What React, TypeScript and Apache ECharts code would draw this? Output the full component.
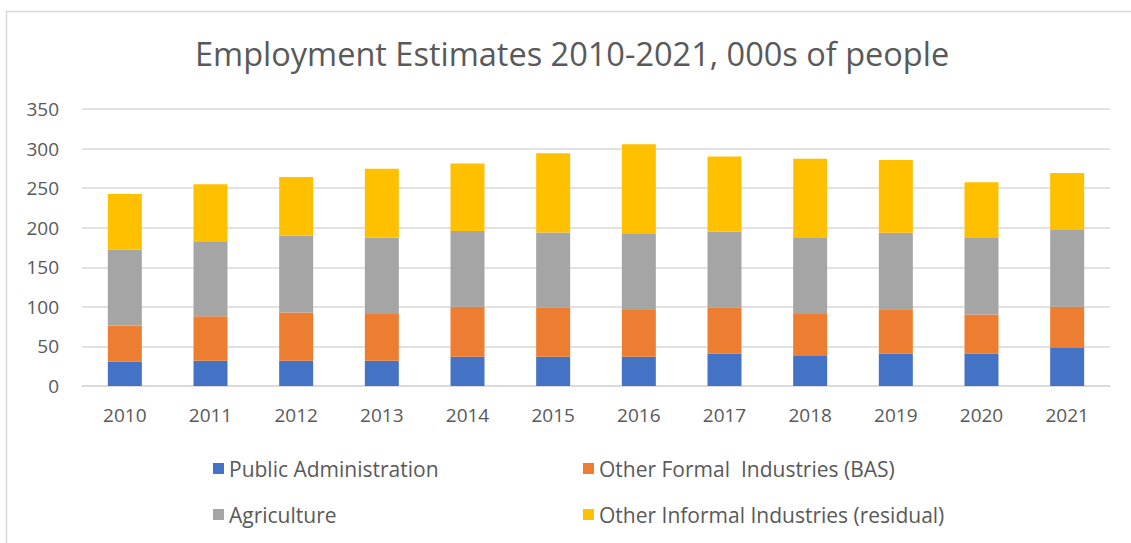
import React, { useEffect, useRef } from "react";
import * as echarts from "echarts";

const years = ["2010", "2011", "2012", "2013", "2014", "2015", "2016", "2017", "2018", "2019", "2020", "2021"];
const publicAdmin = [31, 32, 32, 32, 37, 37, 37, 41, 38, 41, 41, 48];
const otherFormal = [45.5, 56, 61, 59, 63, 62, 59, 58, 53, 56, 49.5, 52];
const agriculture = [96, 95, 97, 96.5, 96, 95, 96, 96, 96, 96.5, 96.5, 97];
const otherInformal = [70, 72, 74, 87, 85, 100, 113.5, 95, 100, 92, 70.5, 72];

const seriesNames = [
  "Public Administration",
  "Other Formal  Industries (BAS)",
  "Agriculture",
  "Other Informal Industries (residual)",
];
const colors = ["#4472C4", "#ED7D31", "#A5A5A5", "#FFC000"];

export default function App() {
  const ref = useRef<HTMLDivElement>(null);
  useEffect(() => {
    if (!ref.current) return;
    const chart = echarts.init(ref.current, null, { renderer: "svg" });
    const font = "Open Sans";
    const textColor = "#595959";
    const legendPos = [
      { left: 208, top: 453 },
      { left: 578, top: 453 },
      { left: 208, top: 499 },
      { left: 578, top: 499 },
    ];
    const values = [publicAdmin, otherFormal, agriculture, otherInformal];
    chart.setOption({
      animation: false,
      backgroundColor: "#ffffff",
      title: {
        text: "Employment Estimates 2010-2021, 000s of people",
        left: 190,
        top: 32,
        textStyle: { fontFamily: font, fontSize: 32.5, fontWeight: "normal", color: textColor },
      },
      graphic: [
        {
          type: "rect",
          shape: { x: 6.5, y: 11.5, width: 1200, height: 600 },
          style: { fill: "none", stroke: "#d9d9d9", lineWidth: 1.5 },
          silent: true,
        },
      ],
      legend: legendPos.map((p, i) => ({
        data: [seriesNames[i]],
        left: p.left,
        top: p.top,
        itemWidth: 11,
        itemHeight: 11,
        icon: "rect",
        textStyle: { fontFamily: font, fontSize: 21, color: textColor, padding: [0, 0, 0, 0] },
      })),
      grid: { left: 82, right: 21, top: 109, bottom: 157, containLabel: false },
      xAxis: {
        type: "category",
        data: years,
        axisLine: { show: true, lineStyle: { color: "#d9d9d9", width: 1.5 } },
        axisTick: { show: false },
        axisLabel: { fontFamily: font, fontSize: 19, color: textColor, margin: 19 },
      },
      yAxis: {
        type: "value",
        min: 0,
        max: 350,
        interval: 50,
        axisLine: { show: false },
        axisTick: { show: false },
        splitLine: { lineStyle: { color: "#d9d9d9", width: 1.5 } },
        axisLabel: { fontFamily: font, fontSize: 19, color: textColor, margin: 23 },
      },
      series: seriesNames.map((name, i) => ({
        name,
        type: "bar",
        stack: "total",
        data: values[i],
        barWidth: 34,
        itemStyle: { color: colors[i] },
      })),
    });
    return () => chart.dispose();
  }, []);
  return (
    <div
      ref={ref}
      style={{ position: "fixed", left: 0, top: 0, width: 1131, height: 543 }}
    />
  );
}
